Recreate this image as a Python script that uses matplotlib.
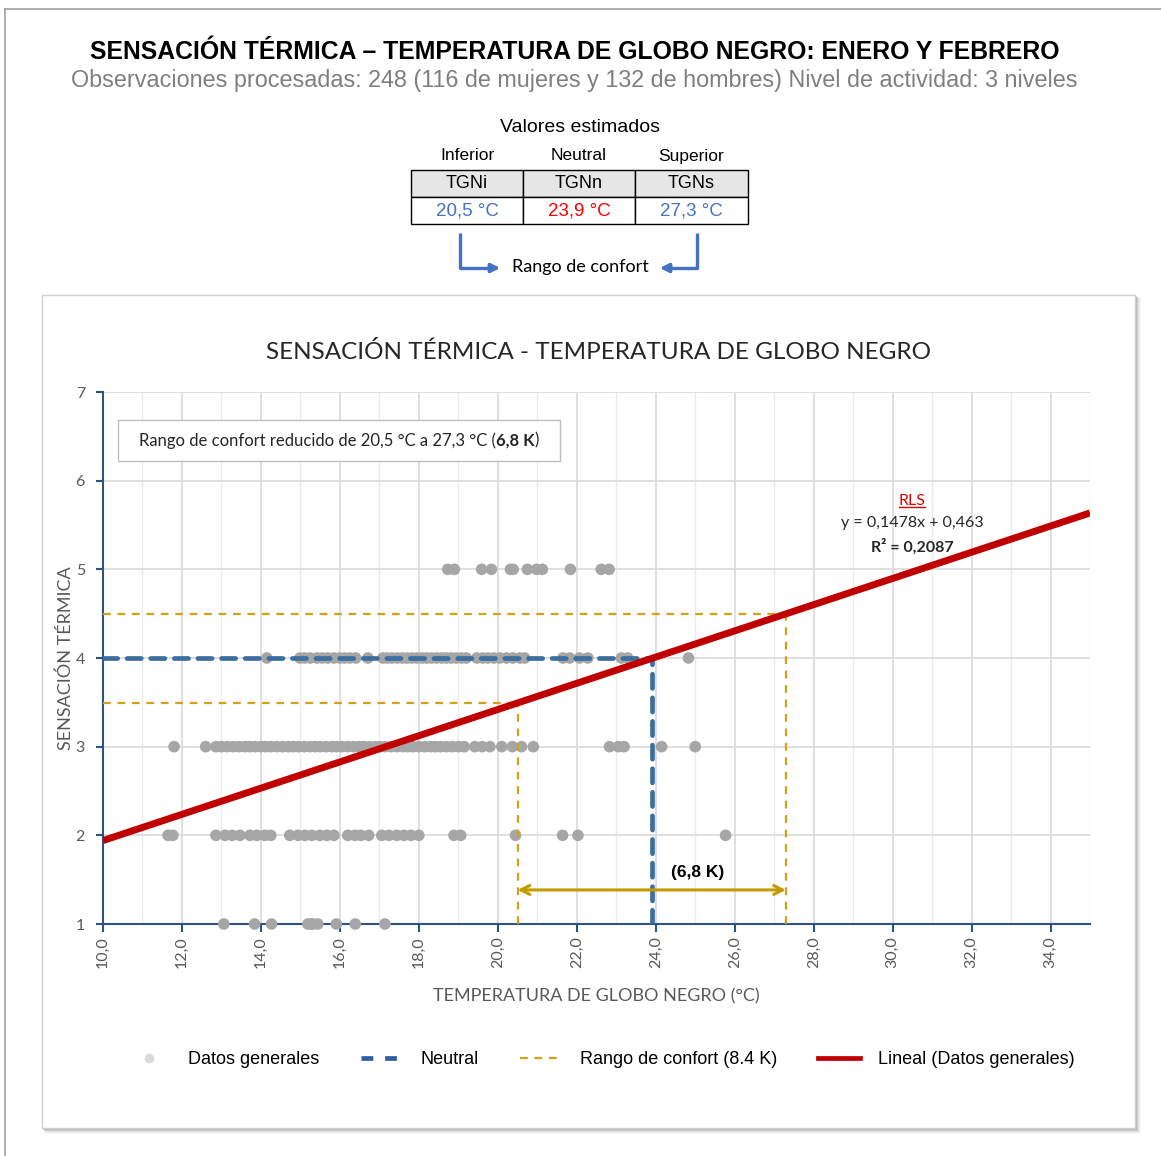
import matplotlib
matplotlib.use("Agg")
import matplotlib.pyplot as plt
from matplotlib import font_manager
from matplotlib.patches import Rectangle
from matplotlib.lines import Line2D

# --- data -----------------------------------------------------------------
# observed black globe temperatures (°C) grouped by thermal sensation vote
tgn_voto1 = [13.06, 13.84, 14.27, 15.19, 15.27, 15.32, 15.44, 15.91, 16.39, 17.14]
tgn_voto2 = [11.65, 11.77, 12.86, 13.09, 13.27, 13.47, 13.72, 13.9, 14.1, 14.25,
             14.73, 14.94, 15.11, 15.29, 15.49, 15.67, 15.85, 16.2, 16.38, 16.53,
             16.73, 17.06, 17.24, 17.44, 17.62, 17.8, 18.0, 18.89, 19.06, 20.45,
             21.64, 22.03, 25.77]
tgn_voto3 = [11.8, 12.6, 12.86, 13.0, 13.15, 13.3, 13.45, 13.6, 13.72, 13.85,
             14.0, 14.12, 14.25, 14.4, 14.55, 14.7, 14.82, 14.95, 15.1, 15.25,
             15.38, 15.5, 15.65, 15.8, 15.92, 16.05, 16.2, 16.35, 16.48, 16.6,
             16.75, 16.9, 17.02, 17.15, 17.3, 17.45, 17.6, 17.72, 17.85, 18.0,
             18.15, 18.3, 18.42, 18.55, 18.7, 18.85, 19.0, 19.15, 19.42, 19.6,
             19.8, 20.1, 20.37, 20.6, 20.9, 22.83, 23.05, 23.2, 24.15, 25.0]
tgn_voto4 = [14.15, 14.99, 15.11, 15.25, 15.42, 15.55, 15.69, 15.85, 16.0, 16.12,
             16.25, 16.4, 16.71, 17.09, 17.2, 17.32, 17.45, 17.58, 17.7, 17.82,
             17.95, 18.08, 18.2, 18.32, 18.45, 18.58, 18.7, 18.82, 18.95, 19.08,
             19.2, 19.47, 19.62, 19.75, 19.9, 20.05, 20.22, 20.38, 20.56, 20.68,
             21.65, 21.82, 22.07, 22.28, 23.13, 23.29, 24.83]
tgn_voto5 = [18.73, 18.9, 19.59, 19.84, 20.32, 20.39, 20.75, 20.98, 21.13, 21.84,
             22.62, 22.82]
votos = [1, 2, 3, 4, 5]

# linear regression (RLS)
pendiente = 0.1478
ordenada = 0.463
r2 = 0.2087

# estimated values
tgn_inf = 20.5
tgn_neu = 23.9
tgn_sup = 27.3
voto_neutral = 4
tabla_niveles = ["Inferior", "Neutral", "Superior"]
tabla_codigos = ["TGNi", "TGNn", "TGNs"]
tabla_valores = [tgn_inf, tgn_neu, tgn_sup]

x_min, x_max = 10, 35
y_min, y_max = 1, 7

W, H = 1161, 1156


def coma(v, d=1):
    return f"{v:.{d}f}".replace(".", ",")


AZUL = "#4472C4"
ROJO = "#C00000"
ORO = "#D4A017"
ORO_FLECHA = "#C59A00"
AZUL_N = "#3C6E9F"
GRIS_P = "#A6A6A6"
EJE = "#2F5280"
TXT = "#595959"
CAL = ["Lato", "DejaVu Sans"]
ARI = ["Liberation Sans", "DejaVu Sans"]

# header uses a narrow sans when available
instaladas = {f.name for f in font_manager.fontManager.ttflist}
if "Liberation Sans Narrow" in instaladas:
    CAB = ["Liberation Sans Narrow", "DejaVu Sans"]
    t_size, s_size = 21, 19
else:
    CAB = ARI
    t_size, s_size = 17.8, 16.8

fig = plt.figure(figsize=(W / 100, H / 100), dpi=100)
fig.patch.set_facecolor("white")

# pixel-space overlay for header, table and chart frame
bg = fig.add_axes([0, 0, 1, 1], zorder=0)
bg.set_xlim(0, W)
bg.set_ylim(H, 0)
bg.axis("off")

# outer frame
bg.plot([5, 5], [9, H], color="#A0A0A0", lw=1.2)
bg.plot([5, W], [9, 9], color="#A0A0A0", lw=1.2)

bg.text(575, 52, "SENSACIÓN TÉRMICA – TEMPERATURA DE GLOBO NEGRO: ENERO Y FEBRERO",
        ha="center", va="center", fontsize=t_size, fontweight="bold", family=CAB, color="black")
bg.text(574, 81, "Observaciones procesadas: 248 (116 de mujeres y 132 de hombres) Nivel de actividad: 3 niveles",
        ha="center", va="center", fontsize=s_size, family=CAB, color="#7F7F7F")

# table of estimated values
bg.text(580, 128, "Valores estimados", ha="center", va="center", fontsize=14, family=ARI)
col_x = [411, 523, 635, 748]
for i in range(3):
    cx = (col_x[i] + col_x[i + 1]) / 2
    bg.text(cx, 156, tabla_niveles[i], ha="center", va="center", fontsize=12.5, family=ARI)
    bg.add_patch(Rectangle((col_x[i], 170), col_x[i + 1] - col_x[i], 27,
                           facecolor="#E7E6E6", edgecolor="black", lw=1))
    bg.add_patch(Rectangle((col_x[i], 197), col_x[i + 1] - col_x[i], 27,
                           facecolor="white", edgecolor="black", lw=1))
    bg.text(cx, 184, tabla_codigos[i], ha="center", va="center", fontsize=13, family=ARI)
    bg.text(cx, 211, coma(tabla_valores[i]) + " °C", ha="center", va="center", fontsize=13.5,
            family=ARI, color="#FF0000" if i == 1 else AZUL)

# comfort range bracket arrows
bg.plot([460, 460, 492], [233, 268, 268], color=AZUL, lw=2.4, solid_capstyle="butt")
bg.annotate("", xy=(503, 268), xytext=(488, 268),
            arrowprops=dict(arrowstyle="-|>", color=AZUL, lw=2.4, mutation_scale=13))
bg.plot([697, 697, 668], [233, 268, 268], color=AZUL, lw=2.4, solid_capstyle="butt")
bg.annotate("", xy=(657, 268), xytext=(672, 268),
            arrowprops=dict(arrowstyle="-|>", color=AZUL, lw=2.4, mutation_scale=13))
bg.text(580, 267, "Rango de confort", ha="center", va="center", fontsize=13, family=CAL)

# chart frame with soft shadow
for k, a in zip([6, 5, 4, 3, 2], [0.05, 0.08, 0.12, 0.18, 0.25]):
    bg.add_patch(Rectangle((42 + k * 0.5, 295 + k * 0.5), 1093 + k * 0.5, 833 + k * 0.5,
                           facecolor="#808080", edgecolor="none", alpha=a))
bg.add_patch(Rectangle((42, 295), 1093, 833, facecolor="white", edgecolor="#D0D0D0", lw=1))

bg.text(598, 352, "SENSACIÓN TÉRMICA - TEMPERATURA DE GLOBO NEGRO", ha="center", va="center",
        fontsize=17.5, family=CAL, color="#262626")

# --- main plot ------------------------------------------------------------
ax = fig.add_axes([103 / W, 1 - 924 / H, (1090 - 103) / W, (924 - 392) / H], zorder=2)
ax.set_facecolor("none")
ax.set_xlim(x_min, x_max)
ax.set_ylim(y_min, y_max)

ax.set_xticks(range(10, 35, 2))
ax.set_xticks(range(10, 36), minor=True)
ax.set_xticklabels([coma(v) for v in range(10, 35, 2)], rotation=90)
ax.set_yticks(range(1, 8))
ax.grid(True, which="major", axis="both", color="#D9D9D9", lw=1.2, zorder=0)
ax.grid(True, which="minor", axis="x", color="#EBEBEB", lw=1.0, zorder=0)
ax.tick_params(axis="x", which="major", direction="out", length=6, width=1.5, color=EJE,
               labelsize=11.5, labelcolor=TXT, pad=3)
ax.tick_params(axis="x", which="minor", length=0)
ax.tick_params(axis="y", direction="out", length=5, width=1.5, color=EJE,
               labelsize=11.5, labelcolor=TXT, pad=8)
for lab in ax.get_xticklabels() + ax.get_yticklabels():
    lab.set_family(CAL)
for s in ["top", "right"]:
    ax.spines[s].set_visible(False)
for s in ["left", "bottom"]:
    ax.spines[s].set_color(EJE)
    ax.spines[s].set_linewidth(1.5)

ax.set_xlabel("TEMPERATURA DE GLOBO NEGRO (°C)", fontsize=13, color=TXT, family=CAL, labelpad=14)
ax.set_ylabel("SENSACIÓN TÉRMICA", fontsize=13, color=TXT, family=CAL, labelpad=1)

grupos = [tgn_voto1, tgn_voto2, tgn_voto3, tgn_voto4, tgn_voto5]
for v, xs in zip(votos, grupos):
    ax.scatter(xs, [v] * len(xs), s=70, color=GRIS_P, edgecolors="none", zorder=3, clip_on=False)

# comfort range guide lines on the regression
y_inf = pendiente * tgn_inf + ordenada
y_sup = pendiente * tgn_sup + ordenada
for tx, ty in [(tgn_inf, y_inf), (tgn_sup, y_sup)]:
    ax.plot([x_min, tx], [ty, ty], color=ORO, lw=1.6, dashes=(3.5, 3), zorder=4)
    ax.plot([tx, tx], [y_min, ty], color=ORO, lw=1.6, dashes=(3.5, 3), zorder=4)

# neutral
ax.plot([x_min, tgn_neu], [voto_neutral, voto_neutral], color=AZUL_N, lw=3.4,
        dashes=(3, 2), zorder=5, dash_capstyle="round")
ax.plot([tgn_neu, tgn_neu], [y_min, voto_neutral], color=AZUL_N, lw=3.4,
        dashes=(3, 2), zorder=5, dash_capstyle="round")

# regression line
ax.plot([x_min, x_max], [pendiente * x_min + ordenada, pendiente * x_max + ordenada],
        color=ROJO, lw=5, zorder=6, solid_capstyle="butt")

# comfort width arrow
ax.annotate("", xy=(tgn_inf, 1.384), xytext=(tgn_sup, 1.384),
            arrowprops=dict(arrowstyle="<->", color=ORO_FLECHA, lw=2.2, mutation_scale=16,
                            shrinkA=0, shrinkB=0), zorder=6)
ax.text(25.07, 1.58, "(" + coma(tgn_sup - tgn_inf) + " K)", ha="center", va="center",
        fontsize=12.5, fontweight="bold", family=ARI, zorder=7)

# regression label
rx = 30.49
t_rls = ax.text(rx, 5.77, "RLS", ha="center", va="center", fontsize=11.5, color="#E00000",
                family=CAL, zorder=7)
ax.text(rx, 5.52, f"y = {coma(pendiente, 4)}x + {coma(ordenada, 3)}", ha="center", va="center",
        fontsize=11.5, color="#262626", family=CAL, zorder=7)
ax.text(rx, 5.26, f"R² = {coma(r2, 4)}", ha="center", va="center", fontsize=11.5,
        fontweight="bold", color="#262626", family=CAL, zorder=7)

# comfort range box
ax.add_patch(Rectangle((0.0152, 0.870), 0.448, 0.077, transform=ax.transAxes,
                       facecolor="white", edgecolor="#BFBFBF", lw=1, zorder=7))
fig.canvas.draw()
rend = fig.canvas.get_renderer()
t1 = ax.text(0, 0.909, f"Rango de confort reducido de {coma(tgn_inf)} °C a {coma(tgn_sup)} °C (",
             transform=ax.transAxes, ha="left", va="center", fontsize=12, family=CAL,
             color="#262626", zorder=8)
t2 = ax.text(0, 0.909, coma(tgn_sup - tgn_inf) + " K", transform=ax.transAxes, ha="left",
             va="center", fontsize=12, fontweight="bold", family=CAL, color="#262626", zorder=8)
t3 = ax.text(0, 0.909, ")", transform=ax.transAxes, ha="left", va="center", fontsize=12,
             family=CAL, color="#262626", zorder=8)
inv = ax.transAxes.inverted()
ws = [inv.transform((t.get_window_extent(rend).width, 0))[0] - inv.transform((0, 0))[0]
      for t in (t1, t2, t3)]
x0 = 0.239 - sum(ws) / 2
t1.set_x(x0)
t2.set_x(x0 + ws[0])
t3.set_x(x0 + ws[0] + ws[1])

# underline RLS
bb = t_rls.get_window_extent(rend)
ax.plot([bb.x0, bb.x1], [bb.y0 + 1, bb.y0 + 1], transform=None, color="#E00000", lw=1, zorder=7)

# legend
handles = [
    Line2D([], [], ls="none", marker="o", markersize=7, color="#D9D9D9", mec="none"),
    Line2D([], [], color="#2E5FA0", lw=3.4, dashes=(2.5, 2.5)),
    Line2D([], [], color=ORO, lw=1.6, dashes=(3.5, 3)),
    Line2D([], [], color=ROJO, lw=3.4),
]
labels = ["Datos generales", "Neutral", "Rango de confort (8.4 K)", "Lineal (Datos generales)"]
fig.legend(handles, labels, loc="center", bbox_to_anchor=(0.518, 1 - 1060 / H), ncol=4,
           frameon=False, prop={"family": ARI, "size": 13}, handlelength=2.3,
           columnspacing=2.3, handletextpad=1.0)

fig.savefig("out.png", dpi=100)
